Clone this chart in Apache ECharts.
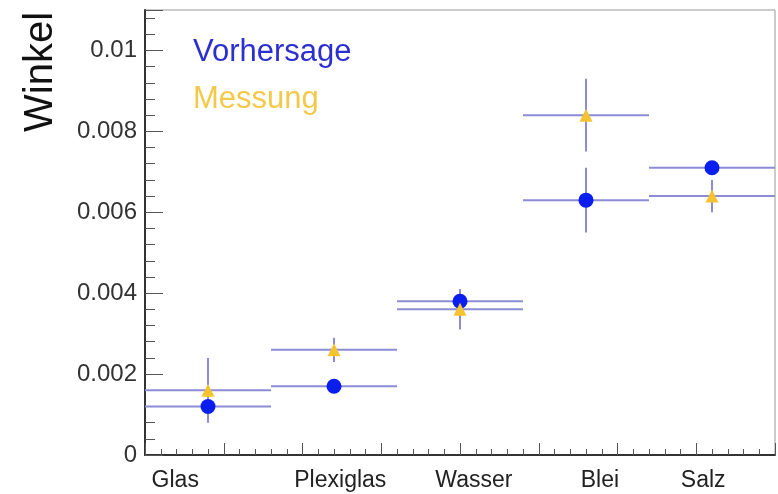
<!DOCTYPE html>
<html>
<head>
<meta charset="utf-8">
<script src="https://cdn.jsdelivr.net/npm/echarts@6/dist/echarts.min.js"></script>
<style>
  html, body { margin: 0; padding: 0; background: #fff; }
  #chart { width: 778px; height: 494px; }
</style>
</head>
<body>
<div id="chart"></div>
<script>
// Materialien und Messwerte
const categories = ['Glas', 'Plexiglas', 'Wasser', 'Blei', 'Salz'];
const binCenters = [0.5, 1.5, 2.5, 3.5, 4.5];
const labelPositions = [0.24, 1.55, 2.61, 3.61, 4.43];
const vorhersage = [0.0012, 0.0017, 0.0038, 0.0063, 0.0071];
const vorhersageErr = [0.0003, 0.0001, 0.0003, 0.0008, 0.0001];
const messung = [0.0016, 0.0026, 0.0036, 0.0084, 0.0064];
const messungErr = [0.0008, 0.0003, 0.0005, 0.0009, 0.0004];

const BLUE = '#0a1ef0';
const YELLOW = '#f5c330';
const ERR = '#8c8cd6';
const FONT = 'Liberation Sans';

function errData(vals, errs) {
  return vals.map((v, i) => [binCenters[i], v, v - errs[i], v + errs[i]]);
}

// Fehlerbalken: horizontal über das ganze Bin, vertikal +- Fehler
function renderErr(params, api) {
  const x = api.value(0), y = api.value(1);
  const left = api.coord([x - 0.5, y]);
  const right = api.coord([x + 0.5, y]);
  const lo = api.coord([x, api.value(2)]);
  const hi = api.coord([x, api.value(3)]);
  const style = { stroke: ERR, lineWidth: 2 };
  return {
    type: 'group',
    children: [
      { type: 'line', shape: { x1: left[0], y1: left[1], x2: right[0], y2: right[1] }, style },
      { type: 'line', shape: { x1: lo[0], y1: lo[1], x2: hi[0], y2: hi[1] }, style }
    ]
  };
}

const chart = echarts.init(document.getElementById('chart'));
chart.setOption({
  backgroundColor: '#fff',
  animation: false,
  textStyle: { fontFamily: FONT },
  grid: { left: 145, top: 10, right: 3, bottom: 39, show: true, borderColor: '#999', borderWidth: 1 },
  legend: {
    left: 183, top: 32, orient: 'vertical', icon: 'none', itemGap: 16,
    itemWidth: 0, selectedMode: false,
    textStyle: { fontSize: 31, fontFamily: FONT },
    data: [
      { name: 'Vorhersage', textStyle: { color: '#2b2fd0' } },
      { name: 'Messung', textStyle: { color: '#f3c94a' } }
    ]
  },
  xAxis: {
    type: 'value', min: 0, max: 5, interval: 0.625,
    axisLine: { lineStyle: { color: '#333', width: 2 } },
    axisTick: { inside: true, length: 12, lineStyle: { color: '#555' } },
    minorTick: { show: true, splitNumber: 5, length: 6, lineStyle: { color: '#555' } },
    splitLine: { show: false },
    axisLabel: {
      customValues: labelPositions,
      formatter: v => categories[labelPositions.findIndex(p => Math.abs(p - v) < 1e-6)] || '',
      color: '#222', fontSize: 23, margin: 14, fontFamily: FONT
    }
  },
  yAxis: {
    type: 'value', min: 0, max: 0.011, interval: 0.002,
    name: 'Winkel', nameLocation: 'end', nameRotate: 90, nameGap: -122,
    nameTextStyle: { fontSize: 40, color: '#111', align: 'left', verticalAlign: 'bottom', padding: [0, 0, 84, 0], fontFamily: FONT },
    axisLine: { show: true, lineStyle: { color: '#333', width: 2 } },
    axisTick: { inside: true, length: 18, lineStyle: { color: '#555' } },
    minorTick: { show: true, splitNumber: 5, length: 10, lineStyle: { color: '#555' } },
    splitLine: { show: false },
    axisLabel: {
      color: '#333', fontSize: 24, margin: 8, fontFamily: FONT, showMaxLabel: false,
      formatter: v => v === 0 ? '0' : String(+v.toFixed(4))
    }
  },
  series: [
    { name: 'Vorhersage', type: 'custom', renderItem: renderErr, data: errData(vorhersage, vorhersageErr), z: 1, silent: true },
    { name: 'Messung', type: 'custom', renderItem: renderErr, data: errData(messung, messungErr), z: 1, silent: true },
    { name: 'Vorhersage', type: 'scatter', symbol: 'circle', symbolSize: 15, itemStyle: { color: BLUE, opacity: 1 },
      data: vorhersage.map((v, i) => [binCenters[i], v]), z: 3 },
    { name: 'Messung', type: 'scatter', symbol: 'triangle', symbolSize: 13, itemStyle: { color: YELLOW, opacity: 1 },
      data: messung.map((v, i) => [binCenters[i], v]), z: 4 }
  ]
});
</script>
</body>
</html>
